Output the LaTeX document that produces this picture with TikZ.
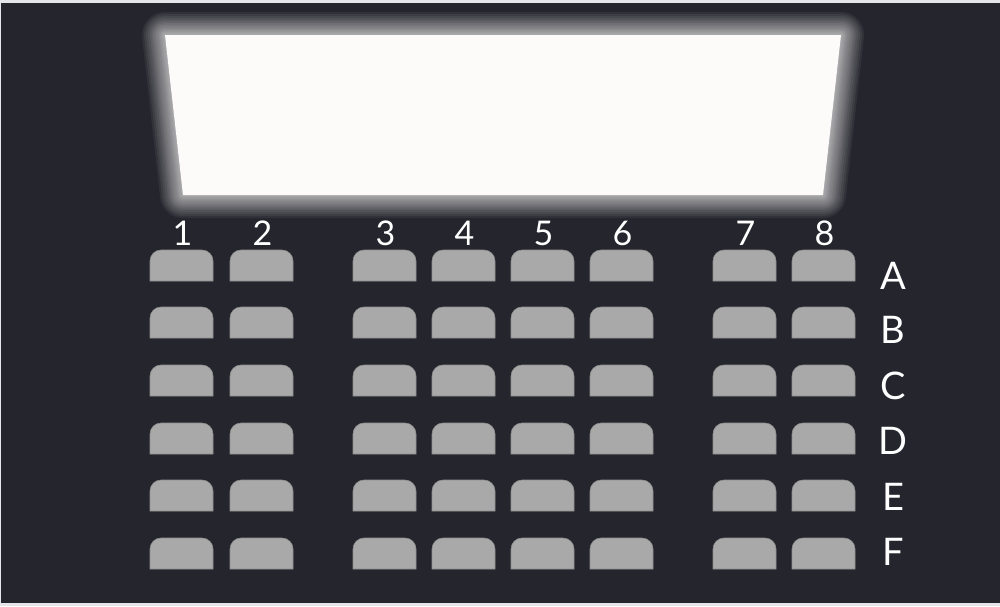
\documentclass[tikz,border=0pt]{standalone}
\usepackage{fontspec}
\setmainfont{Lato}
\definecolor{bg}{HTML}{25252D}
\definecolor{frame}{HTML}{E4E6EA}
\definecolor{seatc}{HTML}{A9A9A9}
\definecolor{seatl}{HTML}{8E8E8E}
\definecolor{scr}{HTML}{FDFAFA}
\tikzset{
  seatbox/.style={fill=seatc, draw=seatl, line width=0.6pt},
  numlabel/.style={text=white, font=\fontsize{34}{34}\selectfont, inner sep=0pt},
  rowlabel/.style={text=white, font=\fontsize{38}{38}\selectfont, inner sep=0pt, anchor=center},
  glowline/.style={white, opacity=0.06, line join=round}
}
\begin{document}
\begin{tikzpicture}[x=1pt,y=-1pt]
\useasboundingbox (0,0) rectangle (1000,606);
\fill[frame] (0,0) rectangle (1000,606);
\fill[bg] (1,3) rectangle (1000,603);
% glow
\foreach \w in {46,42,38,34,30,27,24,21,18,15,12,10,8,6,4,2}{
  \draw[glowline, line width=\w pt] (165,35) -- (841,35) -- (823,195) -- (183,195) -- cycle;
}
\fill[scr] (165,35) -- (841,35) -- (823,195) -- (183,195) -- cycle;
% seats
\foreach \x [count=\c] in {150,230,353,432,511,590,713,792}{
  \node[numlabel] (n\c) at (\x+32.5,233) {\c};
  \foreach \y [count=\r] in {250,307,365,423,480,538}{
    \path[seatbox] (\x,\y+31) -- (\x,\y+11) arc[start angle=180,end angle=270,radius=11] -- (\x+63-11,\y) arc[start angle=270,end angle=360,radius=11] -- (\x+63,\y+31) -- cycle;
    \coordinate (s\c-\r) at (\x+31.5,\y+15.5);
  }
}
\foreach \l/\y in {A/276,B/330,C/386,D/441,E/497,F/552}{
  \node[rowlabel] (r\l) at (893,\y) {\l};
}
\end{tikzpicture}
\end{document}
